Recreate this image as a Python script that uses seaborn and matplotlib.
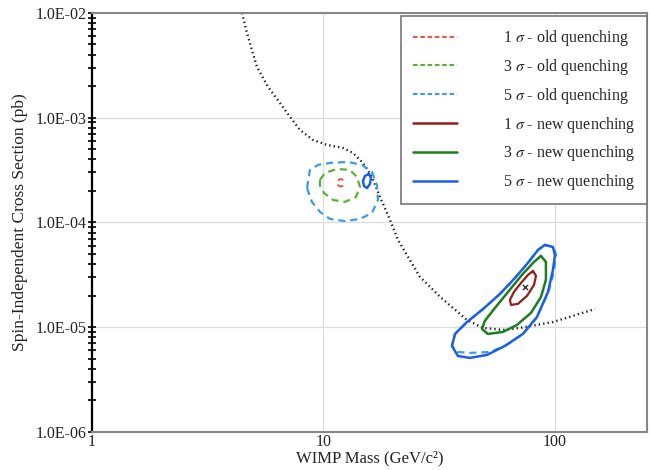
import numpy as np
import pandas as pd
import matplotlib
matplotlib.use("Agg")
import matplotlib.pyplot as plt
import seaborn as sns
from matplotlib.ticker import FixedLocator, LogLocator, NullFormatter
from matplotlib.lines import Line2D

# ---------------- data (WIMP mass in GeV/c^2, cross section in pb) ----------------
limit_mass = [4.45, 4.67, 5.16, 5.76, 6.49, 7.17, 7.91, 9.01, 10.35, 12.14, 13.41, 14.81,
              16.2, 17.54, 19.38, 20.98, 26.1, 31.9, 41.7, 48.9, 59.6, 70.6, 98.0, 149.0]
limit_xsec = [1.0e-2, 6.45e-3, 3.05e-3, 1.97e-3, 1.38e-3, 1.02e-3, 7.64e-4, 6.13e-4, 5.50e-4,
              5.14e-4, 4.61e-4, 3.70e-4, 2.72e-4, 1.75e-4, 1.06e-4, 6.81e-5, 3.02e-5, 1.95e-5,
              1.17e-5, 9.84e-6, 9.42e-6, 9.84e-6, 1.12e-5, 1.49e-5]

# old quenching, low-mass island
old5_lo_mass = [8.49, 8.74, 9.47, 10.67, 12.76, 14.66, 16.2, 17.0, 17.2, 16.2, 14.38, 12.38, 10.67, 9.66, 8.92]
old5_lo_xsec = [2.13e-4, 3.17e-4, 3.54e-4, 3.70e-4, 3.78e-4, 3.54e-4, 3.04e-4, 2.28e-4, 1.64e-4,
                1.23e-4, 1.08e-4, 1.03e-4, 1.08e-4, 1.26e-4, 1.57e-4]
old3_lo_mass = [9.66, 10.15, 11.44, 13.0, 13.96, 14.38, 13.82, 12.38, 10.99, 10.05, 9.66]
old3_lo_xsec = [2.55e-4, 2.97e-4, 3.24e-4, 3.17e-4, 2.72e-4, 2.18e-4, 1.75e-4, 1.57e-4, 1.64e-4, 1.91e-4, 2.23e-4]
old1_lo_mass = [12.2, 11.8, 11.5, 11.45, 11.55, 11.85, 12.2]
old1_lo_xsec = [2.55e-4, 2.6e-4, 2.48e-4, 2.38e-4, 2.27e-4, 2.2e-4, 2.24e-4]

# new quenching, small low-mass 5 sigma island
new5_lo_mass = [15.73, 16.04, 15.88, 15.42, 14.96, 14.81, 15.11]
new5_lo_xsec = [2.90e-4, 2.66e-4, 2.33e-4, 2.13e-4, 2.23e-4, 2.49e-4, 2.78e-4]

# high-mass island
new5_hi_mass = [90.5, 98.0, 100.0, 98.0, 93.3, 83.6, 72.7, 60.8, 50.8, 42.9, 38.1, 35.9, 37.0,
                41.7, 48.9, 57.9, 67.2, 76.4, 84.5]
new5_hi_xsec = [6.10e-5, 5.83e-5, 4.89e-5, 3.52e-5, 2.17e-5, 1.25e-5, 8.62e-6, 6.62e-6, 5.43e-6,
                5.09e-6, 5.31e-6, 6.62e-6, 8.62e-6, 1.12e-5, 1.49e-5, 2.08e-5, 2.95e-5, 4.11e-5, 5.46e-5]
old5_hi_mass = [90.5, 99.0, 101.0, 99.0, 93.8, 83.6, 72.7, 60.8, 52.4, 42.9, 38.1, 35.9, 37.0,
                41.7, 48.9, 57.9, 67.2, 76.4, 84.5]
old5_hi_xsec = [6.10e-5, 5.80e-5, 4.89e-5, 3.40e-5, 2.17e-5, 1.25e-5, 8.62e-6, 6.62e-6, 5.80e-6,
                5.68e-6, 5.80e-6, 6.62e-6, 8.62e-6, 1.12e-5, 1.49e-5, 2.08e-5, 2.95e-5, 4.11e-5, 5.46e-5]
new3_hi_mass = [87.0, 91.4, 91.4, 87.0, 78.8, 68.5, 59.6, 51.3, 48.4, 49.8, 55.1, 62.7, 72.7, 81.2]
new3_hi_xsec = [4.79e-5, 4.20e-5, 2.83e-5, 1.94e-5, 1.37e-5, 1.05e-5, 9.01e-6, 8.62e-6, 9.62e-6,
                1.15e-5, 1.53e-5, 2.17e-5, 3.23e-5, 4.20e-5]
new1_hi_mass = [80.4, 82.8, 81.2, 75.7, 69.2, 64.6, 63.9, 66.5, 71.3, 76.4]
new1_hi_xsec = [3.44e-5, 3.09e-5, 2.53e-5, 1.99e-5, 1.67e-5, 1.63e-5, 1.82e-5, 2.17e-5, 2.64e-5, 3.15e-5]
best_mass = [74.2]
best_xsec = [2.42e-5]

labels = ["1 $\\sigma$ - old quenching", "3 $\\sigma$ - old quenching", "5 $\\sigma$ - old quenching",
          "1 $\\sigma$ - new quenching", "3 $\\sigma$ - new quenching", "5 $\\sigma$ - new quenching"]
x_ticks = [1, 10, 100]
x_ticklabels = ["1", "10", "100"]
y_ticks = [1e-6, 1e-5, 1e-4, 1e-3, 1e-2]
y_ticklabels = ["1.0E-06", "1.0E-05", "1.0E-04", "1.0E-03", "1.0E-02"]

# ---------------- style ----------------
sns.set_theme(style="white")
plt.rcParams["font.family"] = ["Liberation Serif", "DejaVu Serif"]
plt.rcParams["mathtext.fontset"] = "stix"

c_old = {"1": "#e8594a", "3": "#5bb134", "5": "#3c9be8"}
c_new = {"1": "#961c1c", "3": "#1e7d1e", "5": "#1d5fe6"}
dash = (0, (3.2, 2.2))

fig = plt.figure(figsize=(6.5, 4.7), dpi=100)
ax = fig.add_axes([0.1415, 0.081, 0.854, 0.8915])


def closed(xs, ys):
    return pd.DataFrame({"m": list(xs) + [xs[0]], "s": list(ys) + [ys[0]]})


def draw(xs, ys, color, ls, lw, close=True):
    df = closed(xs, ys) if close else pd.DataFrame({"m": xs, "s": ys})
    sns.lineplot(data=df, x="m", y="s", sort=False, estimator=None, color=color,
                 linestyle=ls, linewidth=lw, ax=ax)


# exclusion limit
draw(limit_mass, limit_xsec, "#222222", (0, (0.6, 1.3)), 1.7, close=False)

# old quenching (dashed)
draw(old5_lo_mass, old5_lo_xsec, c_old["5"], dash, 1.6)
draw(old3_lo_mass, old3_lo_xsec, c_old["3"], dash, 1.6)
draw(old1_lo_mass, old1_lo_xsec, c_old["1"], dash, 1.4, close=False)
draw(old5_hi_mass, old5_hi_xsec, c_old["5"], dash, 1.6)

# new quenching (solid)
draw(new5_lo_mass, new5_lo_xsec, c_new["5"], "-", 1.8)
draw(new5_hi_mass, new5_hi_xsec, c_new["5"], "-", 1.8)
draw(new3_hi_mass, new3_hi_xsec, c_new["3"], "-", 1.8)
draw(new1_hi_mass, new1_hi_xsec, c_new["1"], "-", 1.6)
sns.scatterplot(x=best_mass, y=best_xsec, marker="x", color="#333333", s=14, linewidth=1.0, ax=ax)

ax.set_xscale("log")
ax.set_yscale("log")
ax.set_xlim(1, 250)
ax.set_ylim(1e-6, 1e-2)

ax.xaxis.set_major_locator(FixedLocator(x_ticks))
ax.set_xticklabels(x_ticklabels)
ax.xaxis.set_minor_locator(FixedLocator([]))
ax.xaxis.set_minor_formatter(NullFormatter())
ax.yaxis.set_major_locator(FixedLocator(y_ticks))
ax.set_yticklabels(y_ticklabels)
ax.yaxis.set_minor_locator(LogLocator(base=10, subs=np.arange(2, 10)))
ax.yaxis.set_minor_formatter(NullFormatter())

ax.grid(True, which="major", color="#dddddd", linewidth=0.9)
ax.tick_params(axis="x", which="both", length=0, labelsize=11.5, pad=1.5, colors="#222222")
ax.tick_params(axis="y", which="major", direction="inout", length=6, width=1.2, color="black",
               labelsize=11.5, pad=1, left=True, labelcolor="#222222")
ax.tick_params(axis="y", which="minor", direction="inout", length=6, width=1.2, color="black", left=True)

for side in ["top", "right", "bottom"]:
    ax.spines[side].set_color("#888888")
    ax.spines[side].set_linewidth(1.5)
ax.spines["left"].set_color("black")
ax.spines["left"].set_linewidth(1.6)

ax.set_xlabel("WIMP Mass (GeV/c²)", fontsize=12, labelpad=0, color="#222222")
ax.set_ylabel("Spin-Independent Cross Section (pb)", fontsize=12.5, labelpad=5, color="#222222")

# legend
handles = [
    Line2D([], [], color=c_old["1"], linestyle=(0, (2.2, 1.3)), linewidth=1.5),
    Line2D([], [], color=c_old["3"], linestyle=(0, (2.2, 1.3)), linewidth=1.5),
    Line2D([], [], color=c_old["5"], linestyle=(0, (2.2, 1.3)), linewidth=1.5),
    Line2D([], [], color=c_new["1"], linestyle="-", linewidth=1.8),
    Line2D([], [], color=c_new["3"], linestyle="-", linewidth=1.8),
    Line2D([], [], color=c_new["5"], linestyle="-", linewidth=1.8),
]
leg = ax.legend(handles, labels, loc="upper right", bbox_to_anchor=(1.0, 0.992), fontsize=11.5,
                frameon=True, fancybox=False, edgecolor="#777777", framealpha=1,
                handlelength=2.7, handletextpad=2.9, labelspacing=0.55, borderpad=0.75,
                borderaxespad=0.0)
leg.get_frame().set_linewidth(1.2)

fig.savefig("out.png", dpi=100)
